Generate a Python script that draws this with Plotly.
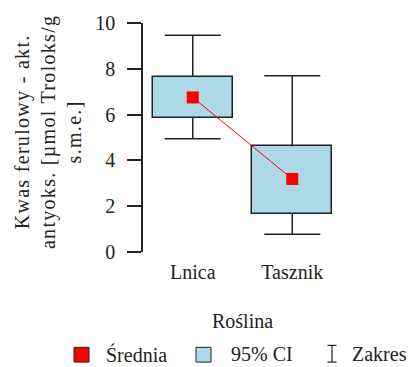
import plotly.graph_objects as go

categories = ["Lnica", "Tasznik"]
means = [6.75, 3.19]
ci_low = [5.85, 1.66]
ci_high = [7.64, 4.62]
range_min = [4.94, 0.77]
range_max = [9.47, 7.70]
y_ticks = [0, 2, 4, 6, 8, 10]

FONT = "Liberation Serif"
INK = "#222222"
W, H = 414, 367
L, R, T, B = 143, 72, 19, 115
pw, ph = W - L - R, H - T - B

def px(x):
    return (x - L) / pw

def py(y):
    return (H - B - y) / ph

xs = [1, 2]
fig = go.Figure()
# 95% CI boxes
fig.add_trace(go.Bar(
    x=xs, base=ci_low, y=[h - l for h, l in zip(ci_high, ci_low)],
    width=0.8, marker=dict(color="#ADD8E6", line=dict(color=INK, width=1.5)),
    hoverinfo="skip", showlegend=False,
))
# range whiskers: vertical stems
wx, wy = [], []
for x, lo, hi, mn, mx in zip(xs, ci_low, ci_high, range_min, range_max):
    wx += [x, x, None, x, x, None]
    wy += [hi, mx, None, lo, mn, None]
fig.add_trace(go.Scatter(
    x=wx, y=wy, mode="lines", line=dict(color=INK, width=1.5),
    hoverinfo="skip", showlegend=False,
))
# whisker caps
fig.add_trace(go.Scatter(
    x=xs + xs, y=range_max + range_min, mode="markers",
    marker=dict(symbol="line-ew", size=40, line=dict(color=INK, width=1.5)),
    hoverinfo="skip", showlegend=False,
))
# means
fig.add_trace(go.Scatter(
    x=xs, y=means, mode="lines+markers",
    line=dict(color="red", width=1),
    marker=dict(symbol="square", size=12, color="red"),
    showlegend=False,
))

fig.update_layout(
    width=W, height=H,
    margin=dict(l=L, r=R, t=T, b=B),
    plot_bgcolor="white", paper_bgcolor="white",
    font=dict(family=FONT, size=20, color=INK),
    showlegend=False, bargap=0,
    xaxis=dict(range=[0.5, 2.5], tickmode="array", tickvals=xs, ticktext=categories,
               showline=False, showgrid=False, zeroline=False, ticks="",
               ticklabelstandoff=6, tickfont=dict(size=20)),
    yaxis=dict(range=[0, 10], tickvals=y_ticks, showline=True, linecolor=INK,
               linewidth=1.5, ticks="outside", ticklen=14, tickwidth=1.5,
               tickcolor=INK, showgrid=False, zeroline=False,
               ticklabelstandoff=8, tickfont=dict(size=20)),
)

sp = '<span style="letter-spacing:1.3px">'
annotations = [
    dict(text=sp + "Kwas ferulowy - akt.</span><br>" + sp + "antyoks. [µmol Troloks/g</span><br>" + sp + "s.m.e.]</span>",
         x=px(48), y=py(130), xref="paper", yref="paper", textangle=-90,
         showarrow=False, xanchor="center", yanchor="middle",
         font=dict(size=20)),
    dict(text="Roślina", x=px(242), y=py(322), xref="paper", yref="paper",
         showarrow=False, xanchor="center", yanchor="middle", font=dict(size=20)),
    dict(text="Średnia", x=px(104), y=py(356), xref="paper", yref="paper",
         showarrow=False, xanchor="left", yanchor="middle", font=dict(size=20)),
    dict(text="95% CI", x=px(229), y=py(356), xref="paper", yref="paper",
         showarrow=False, xanchor="left", yanchor="middle", font=dict(size=20)),
    dict(text="Zakres", x=px(350), y=py(356), xref="paper", yref="paper",
         showarrow=False, xanchor="left", yanchor="middle", font=dict(size=20)),
]
fig.update_layout(annotations=annotations)

shapes = [
    dict(type="rect", xref="paper", yref="paper", x0=px(74), x1=px(89), y0=py(364), y1=py(349),
         fillcolor="red", line=dict(color=INK, width=1)),
    dict(type="rect", xref="paper", yref="paper", x0=px(196), x1=px(211), y0=py(364), y1=py(349),
         fillcolor="#ADD8E6", line=dict(color=INK, width=1)),
    dict(type="line", xref="paper", yref="paper", x0=px(332), x1=px(332), y0=py(364), y1=py(347),
         line=dict(color=INK, width=1.2)),
    dict(type="line", xref="paper", yref="paper", x0=px(327.5), x1=px(336.5), y0=py(364), y1=py(364),
         line=dict(color=INK, width=1.2)),
    dict(type="line", xref="paper", yref="paper", x0=px(327.5), x1=px(336.5), y0=py(347), y1=py(347),
         line=dict(color=INK, width=1.2)),
]
fig.update_layout(shapes=shapes)

fig.write_html("out.html", config={"displayModeBar": False},
               post_script="document.body.style.margin='0';document.body.style.overflow='hidden';")
